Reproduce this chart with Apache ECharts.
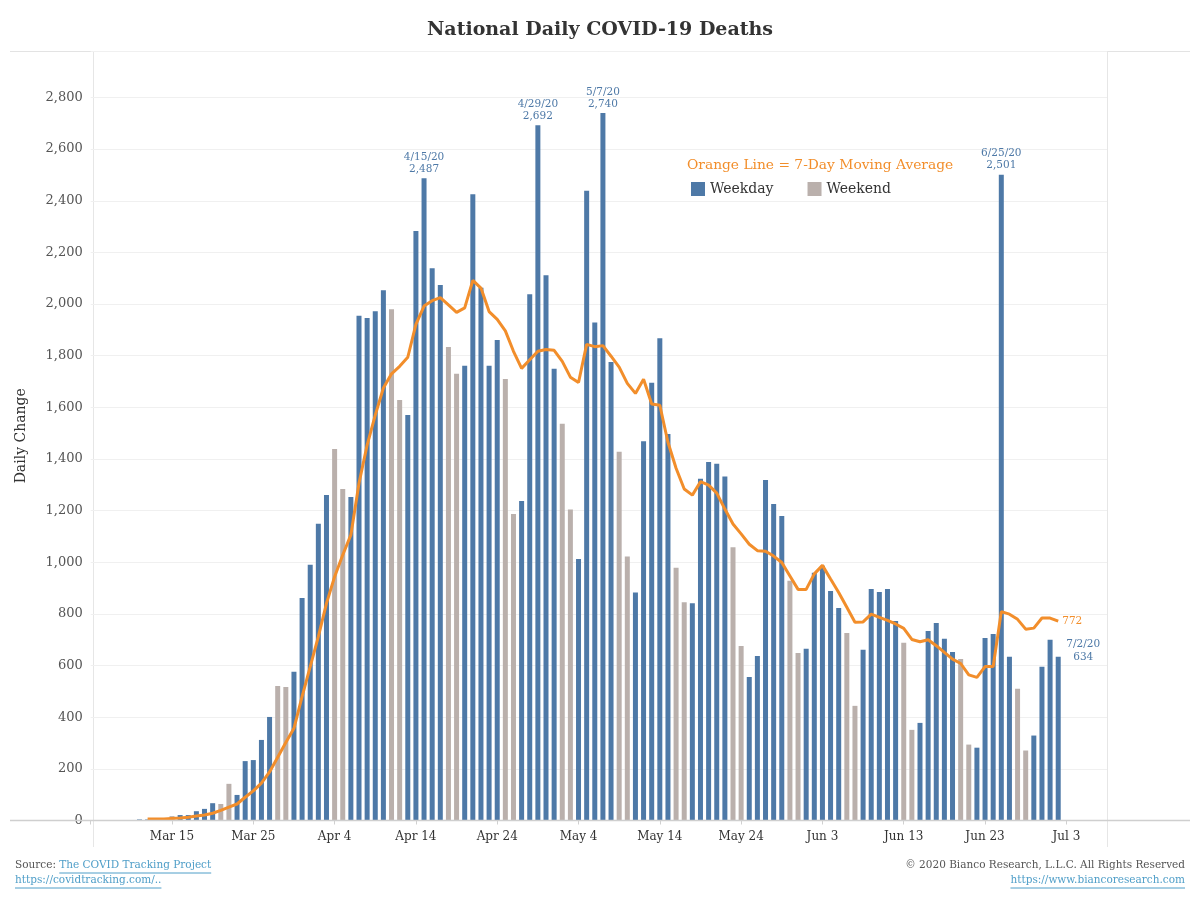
<!DOCTYPE html>
<html><head><meta charset="utf-8">
<script src="https://cdn.jsdelivr.net/npm/echarts@6/dist/echarts.min.js"></script>
<style>html,body{margin:0;padding:0;background:#fff}#c{width:1200px;height:900px}</style>
</head><body><div id="c"></div>
<script>
// ---------------- DATA ----------------
const titleText = 'National Daily COVID-19 Deaths';
const barStartDate = '2020-03-11';
const dailyDeaths = [
  4, 4, 0, 0, 17, 21, 21, 36, 45, 67, 64, 142, 99, 230, 234, 312, 401, 521, 517, 576,
  862, 990, 1149, 1261, 1439, 1284, 1253, 1955, 1946, 1972, 2053, 1980, 1628, 1570, 2283, 2487,
  2139, 2074, 1834, 1730, 1761, 2425, 2063, 1761, 1861, 1710, 1187, 1237, 2038, 2692, 2112,
  1749, 1536, 1204, 1013, 2439, 1929, 2740, 1776, 1428, 1022, 883, 1469, 1695, 1868, 1497,
  979, 845, 841, 1323, 1388, 1382, 1332, 1058, 676, 556, 637, 1319, 1226, 1179, 928, 649,
  665, 959, 987, 889, 823, 726, 444, 661, 897, 885, 897, 773, 688, 351, 378, 734, 765, 704,
  653, 625, 294, 282, 707, 722, 2501, 634, 510, 271, 329, 595, 700, 634
];
const maStartDate = '2020-03-12';
const movingAverage = [
  6, 6, 6, 8, 10, 13, 17, 21, 28, 39, 52, 64, 90, 115, 145, 188, 245, 302, 357, 480,
  596, 712, 841, 944, 1028, 1106, 1306, 1454, 1570, 1675, 1730, 1759, 1794, 1921, 1992, 2013,
  2025, 1997, 1968, 1985, 2092, 2062, 1971, 1941, 1896, 1817, 1751, 1784, 1817, 1824, 1821,
  1778, 1717, 1696, 1844, 1835, 1839, 1798, 1756, 1693, 1654, 1709, 1613, 1608, 1465, 1364,
  1284, 1260, 1312, 1299, 1268, 1206, 1148, 1110, 1070, 1045, 1043, 1024, 999, 947, 895, 895,
  955, 988, 935, 883, 826, 768, 769, 799, 787, 775, 761, 744, 701, 692, 700, 677, 651, 625,
  608, 564, 554, 596, 596, 809, 799, 779, 741, 745, 784, 784, 772
];
const xTickOrigin = '2020-03-15';
const xTickLabels = ['Mar 15','Mar 25','Apr 4','Apr 14','Apr 24','May 4','May 14','May 24','Jun 3','Jun 13','Jun 23','Jul 3'];
const yTickValues = [0,200,400,600,800,1000,1200,1400,1600,1800,2000,2200,2400,2600,2800];
const annotatedTopDates = ['2020-04-15','2020-04-29','2020-05-07','2020-06-25'];
const annotatedSideDate = '2020-07-02';
const legendNames = ['Weekday','Weekend'];
const maLegendText = 'Orange Line = 7-Day Moving Average';
const yAxisTitle = 'Daily Change';
const sourceLabel = 'Source: ';
const sourceLink = 'The COVID Tracking Project';
const sourceUrl = 'https://covidtracking.com/..';
const copyrightText = '\u00A9 2020 Bianco Research, L.L.C. All Rights Reserved';
const copyrightUrl = 'https://www.biancoresearch.com';

// ---------------- HELPERS ----------------
const FONT = 'DejaVu Serif';
const BLUE = '#4e79a7', GRAY = '#bab0ac', ORANGE = '#f28e2b', LINK = '#4f9ec8';
const DAY = 86400000;
function utc(s){ const p = s.split('-').map(Number); return Date.UTC(p[0], p[1]-1, p[2]); }
const origin = utc(xTickOrigin);
function offsetOf(s){ return Math.round((utc(s) - origin) / DAY); }
function fmt(n){ return String(n).replace(/\B(?=(\d{3})+(?!\d))/g, ','); }
function mdy(t){ const d = new Date(t); return (d.getUTCMonth()+1) + '/' + d.getUTCDate() + '/' + String(d.getUTCFullYear()).slice(2); }

const barStart = offsetOf(barStartDate);
const topOffsets = annotatedTopDates.map(offsetOf);
const sideOffset = offsetOf(annotatedSideDate);
const weekdayData = [], weekendData = [];
dailyDeaths.forEach((v, i) => {
  const off = barStart + i;
  const t = origin + off * DAY;
  const dow = new Date(t).getUTCDay();
  const item = { value: [off, v] };
  if (topOffsets.includes(off)) {
    item.label = { show: true, position: 'top', distance: 3, formatter: mdy(t) + '\n' + fmt(v),
      color: BLUE, fontFamily: FONT, fontSize: 10.5, lineHeight: 12 };
  } else if (off === sideOffset) {
    item.label = { show: true, position: 'top', distance: 0, offset: [25, 7], formatter: mdy(t) + '\n' + fmt(v),
      color: BLUE, fontFamily: FONT, fontSize: 10.5, lineHeight: 13 };
  }
  if (dow === 0 || dow === 6) weekendData.push(item); else weekdayData.push(item);
});
const maStart = offsetOf(maStartDate);
const maData = movingAverage.map((v, i) => [maStart + i, v]);

// text measurement for underlines
const mctx = document.createElement('canvas').getContext('2d');
function tw(text, size){ mctx.font = size + 'px "' + FONT + '"'; return mctx.measureText(text).width; }

const FS = 10.5;
const srcLabelW = tw(sourceLabel, FS), srcLinkW = tw(sourceLink, FS), srcUrlW = tw(sourceUrl, FS), cUrlW = tw(copyrightUrl, FS);

const chart = echarts.init(document.getElementById('c'));
chart.setOption({
  animation: false,
  backgroundColor: '#fff',
  textStyle: { fontFamily: FONT },
  grid: { left: 90.7, right: 93, top: 51, bottom: 79.5 },
  legend: {
    data: legendNames, left: 686, top: 177, icon: 'rect', itemWidth: 14, itemHeight: 14, itemGap: 34,
    textStyle: { fontFamily: FONT, fontSize: 14, color: '#333' }
  },
  xAxis: {
    type: 'value', min: -10, max: 115, interval: 10,
    axisLine: { show: false },
    axisTick: { show: true, length: 4, lineStyle: { color: '#d0d0d0' } },
    splitLine: { show: false },
    axisLabel: {
      showMaxLabel: false, margin: 10, color: '#333', fontSize: 12, fontFamily: FONT,
      formatter: v => { const k = Math.round(v / 10); return (v >= 0 && k < xTickLabels.length) ? xTickLabels[k] : ''; }
    }
  },
  yAxis: {
    type: 'value', min: 0, max: 2980, interval: 200,
    axisLine: { show: false }, axisTick: { show: false },
    splitLine: { lineStyle: { color: '#f0f0f0', width: 1 } },
    axisLabel: { showMaxLabel: false, margin: 8, color: '#555', fontSize: 13, fontFamily: FONT,
      formatter: v => yTickValues.includes(v) ? fmt(v) : '' },
    name: yAxisTitle, nameLocation: 'middle', nameGap: 62, nameRotate: 90,
    nameTextStyle: { fontSize: 14, color: '#333', fontFamily: FONT }
  },
  series: [
    { name: legendNames[0], type: 'bar', data: weekdayData, barWidth: 5, barGap: '-100%',
      itemStyle: { color: BLUE }, z: 2 },
    { name: legendNames[1], type: 'bar', data: weekendData, barWidth: 5, barGap: '-100%',
      itemStyle: { color: GRAY }, z: 2 },
    { name: 'MA', type: 'line', data: maData, symbol: 'none', z: 5,
      lineStyle: { color: ORANGE, width: 3 },
      endLabel: { show: true, formatter: p => fmt(p.value[1]), color: ORANGE, fontSize: 10.5, fontFamily: FONT, distance: 4 } }
  ],
  graphic: [
    { type: 'text', left: 'center', top: 21, style: { text: titleText, font: 'bold 19px "' + FONT + '"', fill: '#333' } },
    { type: 'line', shape: { x1: 10, y1: 51.5, x2: 1190, y2: 51.5 }, style: { stroke: '#e3e3e3', lineWidth: 1 } },
    { type: 'line', shape: { x1: 93.5, y1: 51, x2: 93.5, y2: 847 }, style: { stroke: '#e6e6e6', lineWidth: 1 } },
    { type: 'line', shape: { x1: 1107.5, y1: 51, x2: 1107.5, y2: 847 }, style: { stroke: '#e6e6e6', lineWidth: 1 } },
    { type: 'line', shape: { x1: 10, y1: 820.5, x2: 1190, y2: 820.5 }, style: { stroke: '#cfcfcf', lineWidth: 1.5 }, z: 10 },
    { type: 'text', left: 687, top: 158, style: { text: maLegendText, font: '13.8px "' + FONT + '"', fill: ORANGE } },
    // footer left
    { type: 'text', x: 15, y: 860, style: { text: sourceLabel, font: FS + 'px "' + FONT + '"', fill: '#555' } },
    { type: 'text', x: 15 + srcLabelW, y: 860, style: { text: sourceLink, font: FS + 'px "' + FONT + '"', fill: LINK } },
    { type: 'line', shape: { x1: 15 + srcLabelW, y1: 873, x2: 15 + srcLabelW + srcLinkW, y2: 873 }, style: { stroke: LINK, lineWidth: 1 } },
    { type: 'text', x: 15, y: 875, style: { text: sourceUrl, font: FS + 'px "' + FONT + '"', fill: LINK } },
    { type: 'line', shape: { x1: 15, y1: 888, x2: 15 + srcUrlW, y2: 888 }, style: { stroke: LINK, lineWidth: 1 } },
    // footer right
    { type: 'text', x: 1185, y: 860, style: { text: copyrightText, font: FS + 'px "' + FONT + '"', fill: '#555', textAlign: 'right' } },
    { type: 'text', x: 1185, y: 875, style: { text: copyrightUrl, font: FS + 'px "' + FONT + '"', fill: LINK, textAlign: 'right' } },
    { type: 'line', shape: { x1: 1185 - cUrlW, y1: 888, x2: 1185, y2: 888 }, style: { stroke: LINK, lineWidth: 1 } }
  ]
});
</script></body></html>
